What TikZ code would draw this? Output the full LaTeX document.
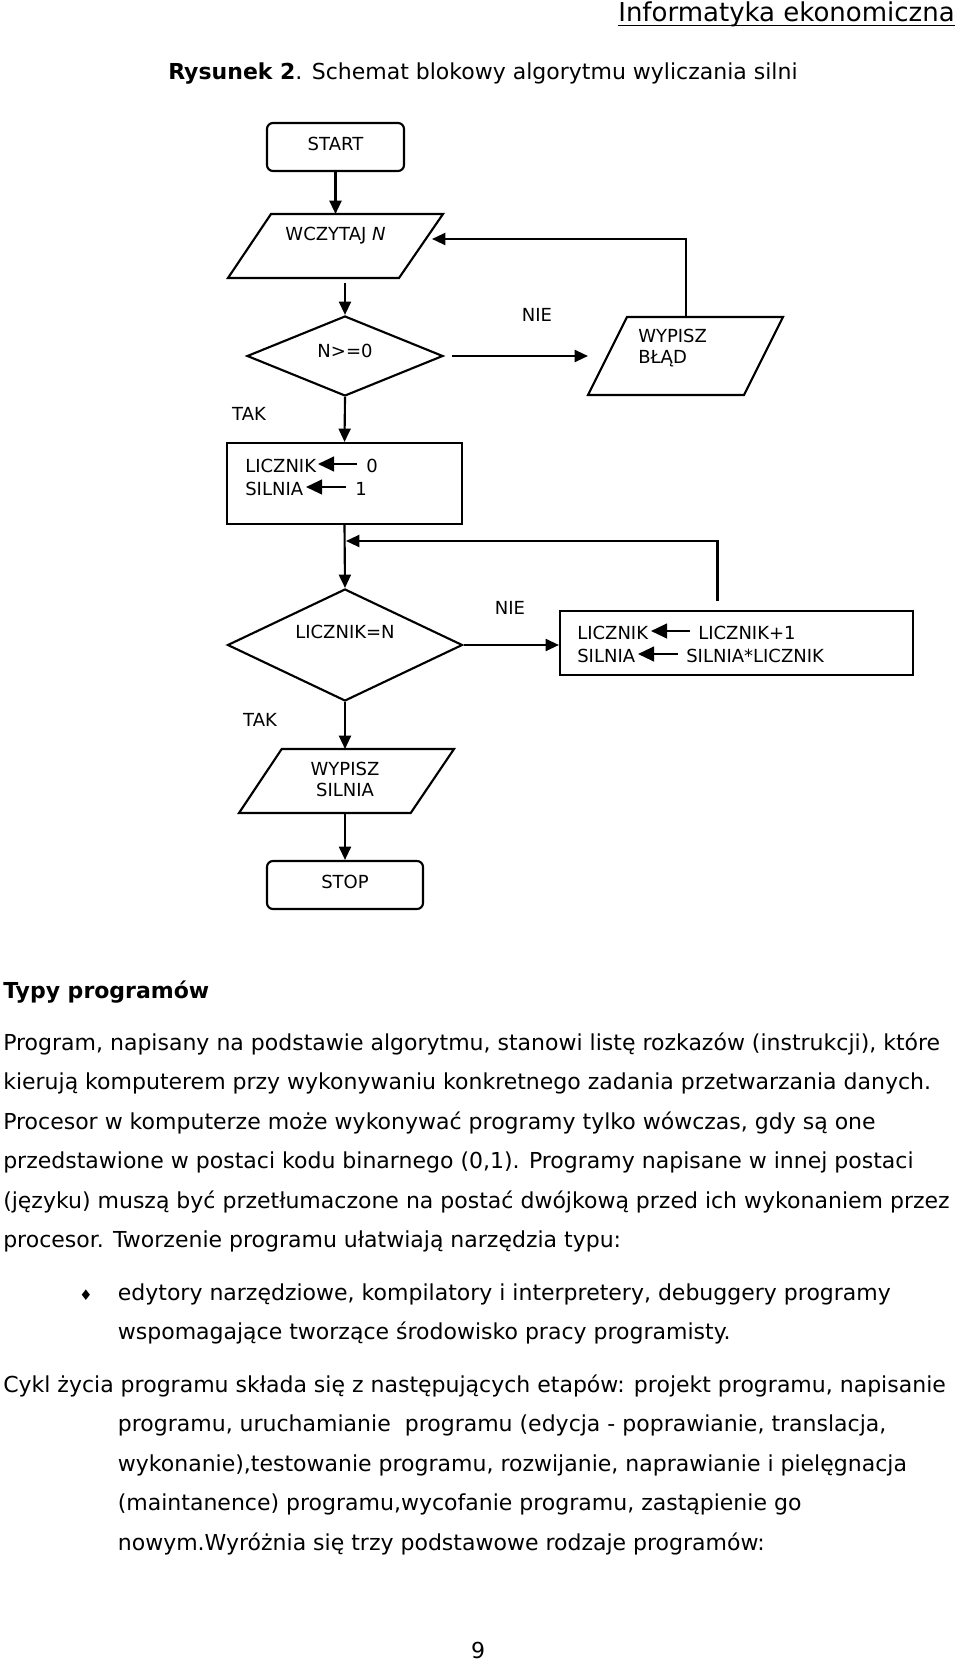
\documentclass[tikz,border=0pt]{standalone}
\usepackage{fontspec}
\setmainfont{DejaVu Sans}
\usetikzlibrary{arrows.meta,shapes.geometric}
\begin{document}
\begin{tikzpicture}[x=0.75pt,y=-0.75pt,
  flow/.style={draw,line width=1.6pt},
  term/.style={flow,rounded corners=4.5pt,inner sep=0pt},
  boxnode/.style={flow,inner sep=0pt},
  dia/.style={flow,diamond,inner sep=0pt},
  arr/.style={line width=1.6pt,-{Triangle[length=10pt,width=9pt]}},
  asg/.style={line width=1.6pt,-{Triangle[length=12pt,width=11pt]}},
  lbl/.style={font=\fontsize{13.5}{16}\selectfont,inner sep=0pt,anchor=base},
  lbll/.style={lbl,anchor=base west},
  body/.style={font=\fontsize{16.5}{19}\selectfont,inner sep=0pt,anchor=base west}]
\useasboundingbox (0,0) rectangle (960,1665);
\fill[white] (0,0) rectangle (960,1665);

% header
\node[font=\fontsize{19.5}{23}\selectfont,inner sep=0pt,anchor=base east] (hdr) at (955,22) {Informatyka ekonomiczna};
\draw[line width=1.1pt] ([yshift=-2.6pt]hdr.base west) -- ([yshift=-2.6pt]hdr.base east);
\node[body] (title) at (168,80) {\textbf{Rysunek 2}. Schemat blokowy algorytmu wyliczania silni};

% START
\node[term,minimum width=102.75pt,minimum height=36pt] (start) at (335.5,147) {};
\node[lbl] (tstart) at (335.5,151) {START};

% WCZYTAJ N
\draw[flow] (271,214) -- (443,214) -- (399,278) -- (228,278) -- cycle;
\coordinate (wczn) at (335.5,214);
\coordinate (wczs) at (345,283);
\coordinate (wcze) at (432,239);
\node[lbl] (twcz) at (335.5,241) {WCZYTAJ \textit{N}};
\draw[arr] (start.south) -- (wczn);

% decision N>=0
\node[dia,minimum width=147pt,minimum height=60pt] (d1) at (345,356) {};
\node[lbl] (td1) at (345,358) {N>=0};
\draw[arr] (wczs) -- (d1.north);

% WYPISZ BLAD
\draw[flow] (627,317) -- (783,317) -- (744,395) -- (588,395) -- cycle;
\coordinate (blw) at (588,356);
\coordinate (bln) at (686,317);
\node[lbll] (tbl1) at (638,343) {WYPISZ};
\node[lbll] (tbl2) at (638,364) {BŁĄD};
\node[lbl] (nie1) at (537,322) {NIE};
\draw[arr] ([xshift=6pt]d1.east) -- (blw);
\draw[arr] (bln) |- (wcze);

% TAK 1
\node[lbl] (tak1) at (249,420) {TAK};

% init box
\node[boxnode,minimum width=176.25pt,minimum height=60.75pt] (b1) at (344.5,483.5) {};
\draw[arr] (d1.south) -- (b1.north);
\node[lbll] (tl1) at (245,472) {LICZNIK};
\node[lbll] (tz0) at (366,472) {0};
\coordinate (a1s) at (357,464);
\coordinate (a1e) at (318,464);
\draw[asg] (a1s) -- (a1e);
\node[lbll] (ts1) at (245,495) {SILNIA};
\node[lbll] (tj1) at (355,495) {1};
\coordinate (a2s) at (346,487);
\coordinate (a2e) at (306,487);
\draw[asg] (a2s) -- (a2e);

% decision LICZNIK=N
\node[dia,minimum width=176.25pt,minimum height=84pt] (d2) at (345,645) {};
\draw[arr] (b1.south) -- (d2.north);
\node[lbl] (td2) at (345,638) {LICZNIK=N};

% update box
\node[boxnode,minimum width=264.75pt,minimum height=48pt] (b2) at (736.5,643) {};
\node[lbl] (nie2) at (510,614) {NIE};
\draw[arr] (d2.east) -- (d2.east -| b2.west);
\node[lbll] (tl2) at (577,639) {LICZNIK};
\node[lbll] (tl2r) at (698,639) {LICZNIK+1};
\coordinate (a3s) at (690,631);
\coordinate (a3e) at (651,631);
\draw[asg] (a3s) -- (a3e);
\node[lbll] (ts2) at (577,662) {SILNIA};
\node[lbll] (ts2r) at (686,662) {SILNIA*LICZNIK};
\coordinate (a4s) at (677.5,654);
\coordinate (a4e) at (638,654);
\draw[asg] (a4s) -- (a4e);
\coordinate (ret) at (717.5,601);
\coordinate (join) at (346,541);
\draw[arr] (ret) |- (join);

% TAK 2
\node[lbl] (tak2) at (260,726) {TAK};

% WYPISZ SILNIA
\draw[flow] (281.7,749) -- (454,749) -- (410.7,813) -- (239,813) -- cycle;
\coordinate (wsn) at (345,749);
\coordinate (wss) at (345,813);
\node[lbl] (tws1) at (345,775) {WYPISZ};
\node[lbl] (tws2) at (345,796) {SILNIA};
\draw[arr] (d2.south) -- (wsn);

% STOP
\node[term,minimum width=117pt,minimum height=36pt] (stop) at (345,885) {};
\node[lbl] (tstop) at (345,888) {STOP};
\draw[arr] (wss) -- (stop.north);

% text
\node[body] (h1) at (3,998) {\textbf{Typy programów}};
\node[body] (l1) at (3,1050) {Program, napisany na podstawie algorytmu, stanowi listę rozkazów (instrukcji), które};
\node[body] (l2) at (3,1089.5) {kierują komputerem przy wykonywaniu konkretnego zadania przetwarzania danych.};
\node[body] (l3) at (3,1129) {Procesor w komputerze może wykonywać programy tylko wówczas, gdy są one};
\node[body] (l4) at (3,1168.5) {przedstawione w postaci kodu binarnego (0,1). Programy napisane w innej postaci};
\node[body] (l5) at (3,1208) {(języku) muszą być przetłumaczone na postać dwójkową przed ich wykonaniem przez};
\node[body] (l6) at (3,1247.5) {procesor. Tworzenie programu ułatwiają narzędzia typu:};
\node[font=\fontsize{11}{13}\selectfont,inner sep=0pt] (bul) at (86,1295) {♦};
\node[body] (l7) at (117.6,1300) {edytory narzędziowe, kompilatory i interpretery, debuggery programy};
\node[body] (l8) at (117.6,1339.5) {wspomagające tworzące środowisko pracy programisty.};
\node[body] (l9) at (3,1392) {Cykl życia programu składa się z następujących etapów: projekt programu, napisanie};
\node[body] (l10) at (117.6,1431.5) {programu, uruchamianie\ \ programu (edycja - poprawianie, translacja,};
\node[body] (l11) at (117.6,1471) {wykonanie),testowanie programu, rozwijanie, naprawianie i pielęgnacja};
\node[body] (l12) at (117.6,1510.5) {(maintanence) programu,wycofanie programu, zastąpienie go};
\node[body] (l13) at (117.6,1550) {nowym.Wyróżnia się trzy podstawowe rodzaje programów:};
\node[body,anchor=base] (pg) at (478,1658) {9};
\end{tikzpicture}
\end{document}
